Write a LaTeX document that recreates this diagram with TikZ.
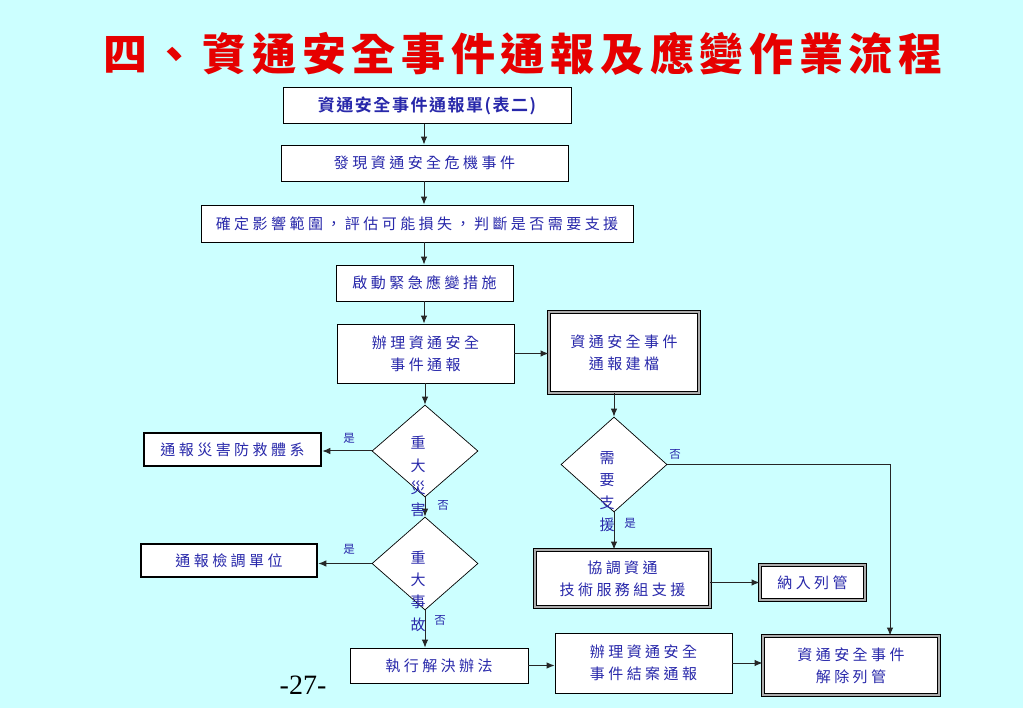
\documentclass[tikz,border=0pt]{standalone}
\usepackage{fontspec}
\usetikzlibrary{shapes.geometric,arrows.meta,calc}
\newfontfamily\cjk[LetterSpace=23]{Noto Sans CJK TC}
\newfontfamily\cjkb[LetterSpace=9]{Noto Sans CJK TC Bold}
\newfontfamily\cjkt[LetterSpace=13]{Noto Sans CJK TC Black}
\setmainfont{Liberation Serif}
\definecolor{bg}{RGB}{204,255,255}
\definecolor{txt}{RGB}{40,40,170}
\definecolor{ttl}{RGB}{230,0,0}
\begin{document}
\begin{tikzpicture}[x=1pt,y=-1pt,
  base/.style={rectangle,fill=white,inner sep=0pt,align=center,text=txt,font=\fontsize{15}{22}\cjk},
  plain/.style={base,draw=black,line width=0.8pt},
  thick/.style={base,draw=black,line width=2.6pt},
  dbl/.style={base,draw=black,line width=0.9pt,double=gray!65,double distance=1.6pt},
  dia/.style={diamond,draw=black,fill=white,line width=0.7pt,inner sep=0pt},
  vtext/.style={text=txt,align=center,inner sep=0pt,font=\fontsize{15}{22.3}\cjk},
  lab/.style={text=txt,inner sep=0pt,font=\fontsize{11.5}{12}\cjk},
  arr/.style={draw=black!85,line width=1pt,-{Latex[length=8pt,width=6.5pt]}},
  ln/.style={draw=black!85,line width=1pt}]
\useasboundingbox[fill=bg] (0,0) rectangle (1023,708);
\node[text=ttl,inner sep=0pt,font=\fontsize{44}{46}\cjkt] (title) at (523,54) {四、資通安全事件通報及應變作業流程};
\node[plain,minimum width=288pt,minimum height=36pt,font=\fontsize{17}{18}\cjkb] (b1) at (427,105.5) {資通安全事件通報單(表二)};
\node[plain,minimum width=287pt,minimum height=36pt] (b2) at (424.5,163) {發現資通安全危機事件};
\node[plain,minimum width=432pt,minimum height=37pt] (b3) at (417,223.5) {確定影響範圍，評估可能損失，判斷是否需要支援};
\node[plain,minimum width=177pt,minimum height=36pt] (b4) at (424.5,283) {啟動緊急應變措施};
\node[plain,minimum width=177pt,minimum height=59pt] (b5) at (425.5,353.5) {辦理資通安全\\事件通報};
\node[dbl,minimum width=150pt,minimum height=81pt] (b11) at (624,352.5) {資通安全事件\\通報建檔};
\node[dia,minimum width=106pt,minimum height=92pt] (d1) at (425,451) {};
\node[dia,minimum width=106pt,minimum height=93pt] (d2) at (425,563.5) {};
\node[dia,minimum width=106pt,minimum height=95pt] (d3) at (614,464.5) {};
\node[thick,minimum width=177pt,minimum height=33pt] (n1) at (232.5,449.5) {通報災害防救體系};
\node[thick,minimum width=176pt,minimum height=33pt] (n2) at (229,560.5) {通報檢調單位};
\node[plain,minimum width=178pt,minimum height=35pt] (b10) at (439,665.5) {執行解決辦法};
\node[dbl,minimum width=175pt,minimum height=57pt] (b13) at (622.5,578.5) {協調資通\\技術服務組支援};
\node[dbl,minimum width=105pt,minimum height=35pt] (b14) at (812.5,582.5) {納入列管};
\node[plain,minimum width=177pt,minimum height=60pt] (b15) at (643.5,663) {辦理資通安全\\事件結案通報};
\node[dbl,minimum width=176pt,minimum height=59pt] (b16) at (851,665.5) {資通安全事件\\解除列管};
\coordinate (ax) at (424,0);
\coordinate (c3) at (890,464.5);
\draw[arr] (b1.south -| ax) -- (b2.north -| ax);
\draw[arr] (b2.south -| ax) -- (b3.north -| ax);
\draw[arr] (b3.south -| ax) -- (b4.north -| ax);
\draw[arr] (b4.south -| ax) -- (b5.north -| ax);
\draw[arr] (b5.south -| d1.north) -- (d1.north);
\draw[arr] (d1.south) -- (d2.north);
\draw[arr] (d1.west) -- (n1.east |- d1.west);
\draw[arr] (d2.west) -- (n2.east |- d2.west);
\draw[arr] (d2.south) -- (d2.south |- b10.north);
\draw[arr] (b5.east) -- (b5.east -| b11.west);
\draw[arr] (b11.south -| d3.north) -- (d3.north);
\draw[arr] (d3.south) -- (d3.south |- b13.north);
\draw[arr] (d3.east) -- (c3) -- (c3 |- b16.north);
\draw[arr] (b14.west -| b13.east) -- (b14.west);
\draw[arr] (b10.east) -- (b10.east -| b15.west);
\draw[arr] (b15.east) -- (b15.east -| b16.west);
\node[vtext] (t1) at (418,476.5) {重\\大\\災\\害};
\node[vtext] (t2) at (418,591) {重\\大\\事\\故};
\node[vtext] (t3) at (607,491.5) {需\\要\\支\\援};
\node[lab] (l1) at (349,438) {是};
\node[lab] (l2) at (443,505) {否};
\node[lab] (l3) at (349,549) {是};
\node[lab] (l4) at (440,620) {否};
\node[lab] (l5) at (675,454) {否};
\node[lab] (l6) at (630,523) {是};
\node[inner sep=0pt,anchor=base,font=\fontsize{28}{30}\selectfont] (pg) at (303,694) {-27-};
\end{tikzpicture}
\end{document}
